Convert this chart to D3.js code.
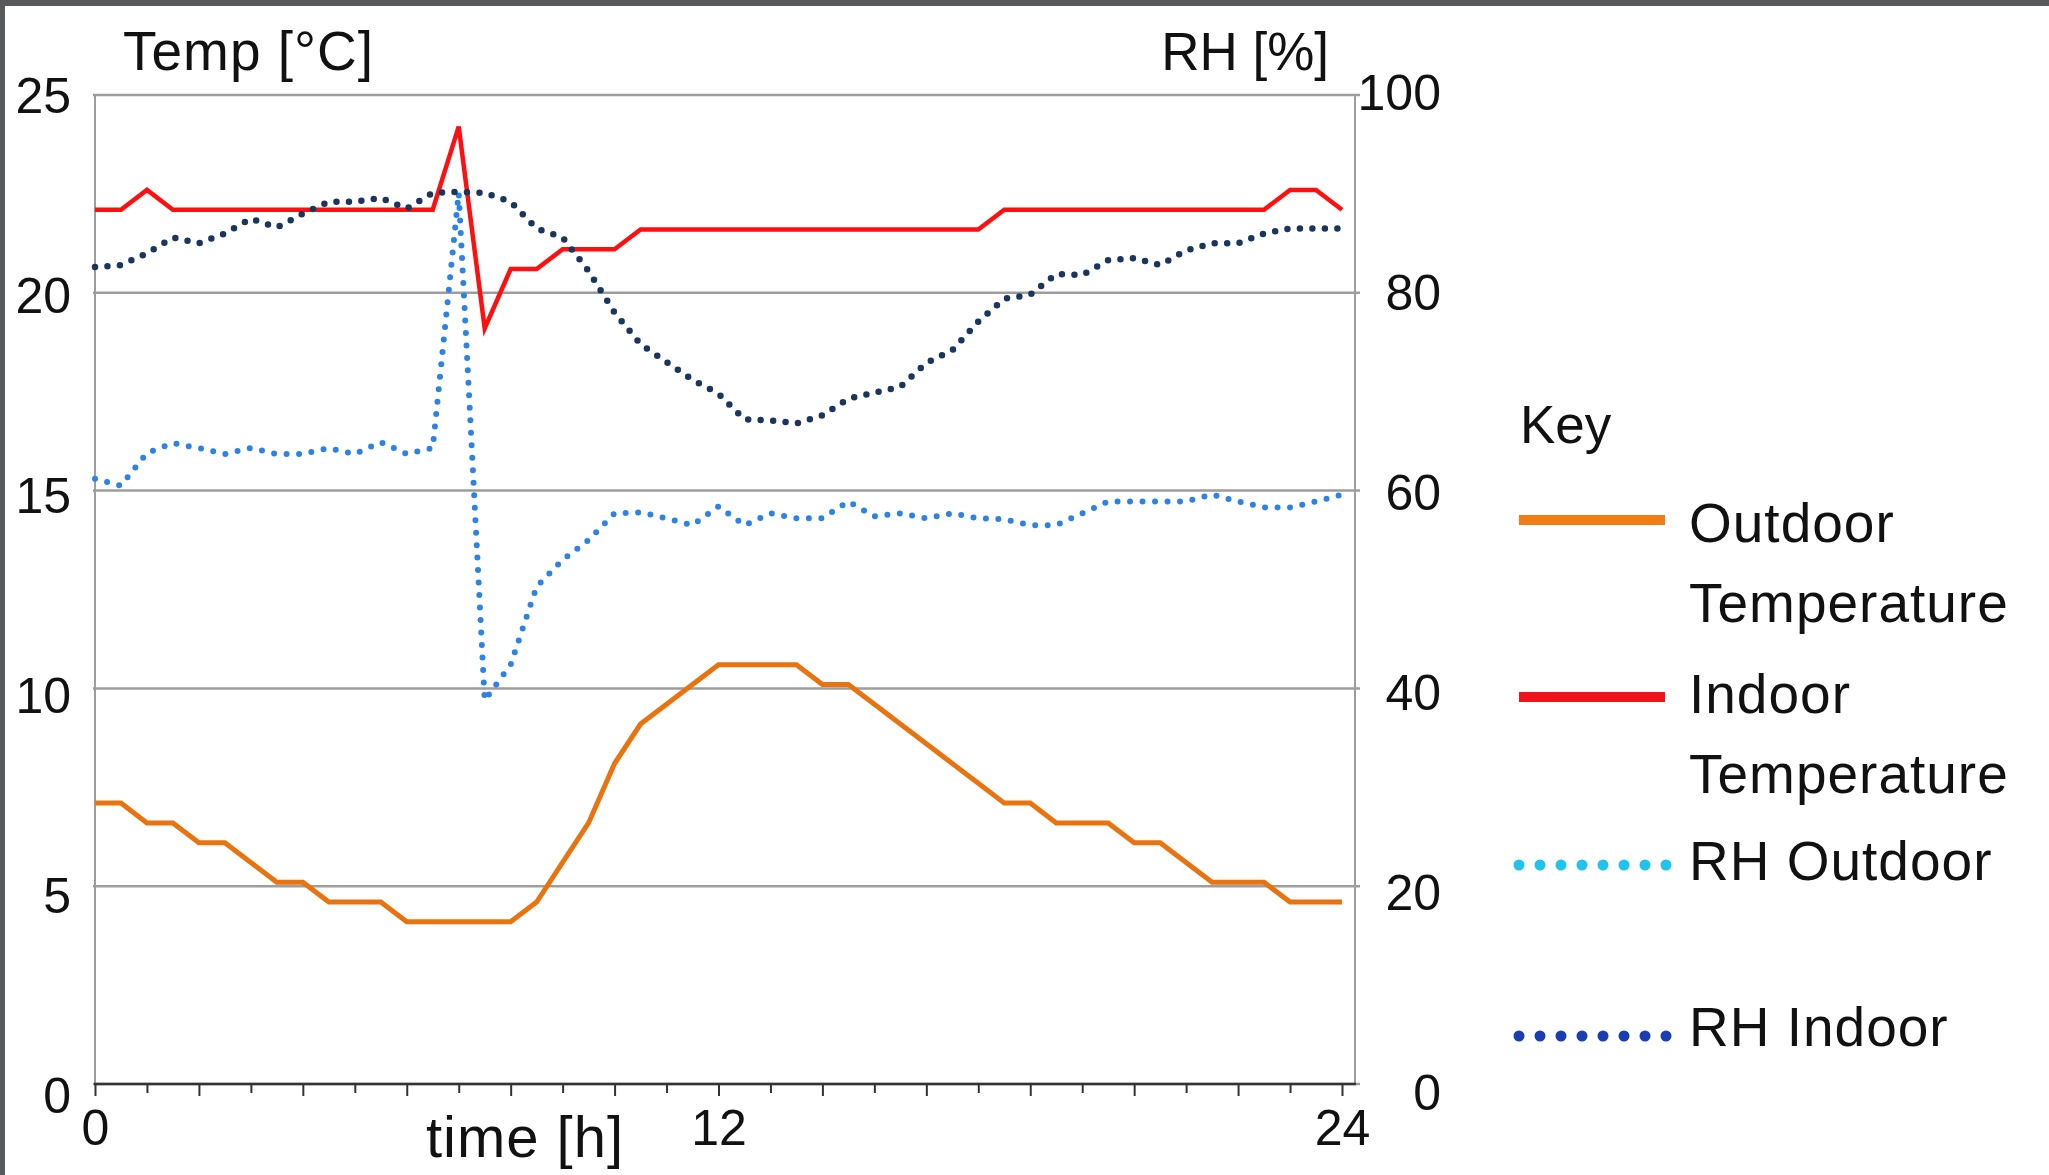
<!DOCTYPE html>
<html>
<head>
<meta charset="utf-8">
<script src="https://cdn.jsdelivr.net/npm/d3@7"></script>
<style>
  body { margin: 0; background: #fff; }
  svg { display: block; font-family: "Liberation Sans", Arial, Helvetica, sans-serif; }
</style>
</head>
<body>
<div id="chart"></div>
<script>
// time of day, one reading every half hour
var hours = [0, 0.5, 1, 1.5, 2, 2.5, 3, 3.5, 4, 4.5, 5, 5.5, 6, 6.5, 7, 7.5, 8, 8.5,
  9, 9.5, 10, 10.5, 11, 11.5, 12, 12.5, 13, 13.5, 14, 14.5, 15, 15.5, 16, 16.5,
  17, 17.5, 18, 18.5, 19, 19.5, 20, 20.5, 21, 21.5, 22, 22.5, 23, 23.5, 24];

// temperatures [°C]
var outdoorTemp = [7.1, 7.1, 6.6, 6.6, 6.1, 6.1, 5.6, 5.1, 5.1, 4.6, 4.6, 4.6, 4.1, 4.1,
  4.1, 4.1, 4.1, 4.6, 5.6, 6.6, 8.1, 9.1, 9.6, 10.1, 10.6, 10.6, 10.6, 10.6, 10.1, 10.1,
  9.6, 9.1, 8.6, 8.1, 7.6, 7.1, 7.1, 6.6, 6.6, 6.6, 6.1, 6.1, 5.6, 5.1, 5.1, 5.1, 4.6, 4.6, 4.6];
var indoorTemp = [22.1, 22.1, 22.6, 22.1, 22.1, 22.1, 22.1, 22.1, 22.1, 22.1, 22.1, 22.1, 22.1, 22.1,
  24.2, 19.1, 20.6, 20.6, 21.1, 21.1, 21.1, 21.6, 21.6, 21.6, 21.6, 21.6, 21.6, 21.6, 21.6, 21.6,
  21.6, 21.6, 21.6, 21.6, 21.6, 22.1, 22.1, 22.1, 22.1, 22.1, 22.1, 22.1, 22.1, 22.1, 22.1, 22.1,
  22.6, 22.6, 22.1];

// relative humidity [%]
var rhOutdoor = [61.2, 60.5, 63.8, 64.8, 64.3, 63.7, 64.3, 63.7, 63.7, 64.3, 63.7, 64.9, 63.7, 64.3,
  90.1, 38.8, 42.4, 50.3, 53.0, 55.0, 57.7, 57.8, 57.2, 56.5, 58.4, 56.5, 57.7, 57.2, 57.2, 58.9,
  57.4, 57.7, 57.2, 57.7, 57.2, 57.1, 56.5, 56.5, 57.7, 58.9, 58.9, 58.9, 58.9, 59.6, 58.9, 58.3,
  58.3, 58.9, 59.6];
var rhIndoor = [82.6, 82.8, 84.0, 85.6, 85.0, 86.0, 87.5, 86.6, 88.0, 89.2, 89.2, 89.6, 88.5, 90.1,
  90.2, 90.1, 89.2, 86.5, 85.6, 82.2, 78.0, 74.8, 73.0, 71.2, 69.8, 67.2, 67.1, 66.8, 67.6, 69.3,
  69.9, 70.5, 72.9, 74.2, 77.1, 79.4, 79.8, 81.9, 81.8, 83.3, 83.5, 82.8, 84.3, 85.0, 85.0, 86.0,
  86.5, 86.5, 86.5];

var tempTicks = [0, 5, 10, 15, 20, 25];
var rhTicks = [0, 20, 40, 60, 80, 100];
var hourTicks = [0, 1, 2, 3, 4, 5, 6, 7, 8, 9, 10, 11, 12, 13, 14, 15, 16, 17, 18, 19, 20, 21, 22, 23, 24];
var hourLabels = [0, 12, 24];

var legendNames = [["Outdoor", "Temperature"], ["Indoor", "Temperature"], ["RH Outdoor"], ["RH Indoor"]];

// layout
var margin = { top: 95, left: 95 };
var width = 1260, height = 989;   // plot box, right axis sits at width
var xSpan = 1247;                 // 0..24 h

var svg = d3.select("#chart")
  .append("svg")
    .attr("width", 2049)
    .attr("height", 1175);

svg.append("rect").attr("width", 2049).attr("height", 1175).attr("fill", "#fff");
// dark frame on top and left
svg.append("rect").attr("width", 2049).attr("height", 6).attr("fill", "#58595b");
svg.append("rect").attr("width", 5).attr("height", 1175).attr("fill", "#58595b");

var g = svg.append("g")
  .attr("transform", "translate(" + margin.left + "," + margin.top + ")");

var x = d3.scaleLinear().domain([0, 24]).range([0, xSpan]);
var yT = d3.scaleLinear().domain([0, 25]).range([height, 0]);
var yRH = d3.scaleLinear().domain([0, 100]).range([height, 0]);
// tick labels drift a little lower than their gridlines towards the bottom
var yLabT = d3.scaleLinear().domain([0, 25]).range([height + 11, 0]);
var yLabRH = d3.scaleLinear().domain([0, 100]).range([height + 8, -3]);

// gridlines
g.append("g").selectAll("line")
  .data(tempTicks)
  .join("line")
    .attr("x1", -2).attr("x2", width + 5)
    .attr("y1", function(d) { return yT(d); })
    .attr("y2", function(d) { return yT(d); })
    .attr("stroke", "#9d9d9d")
    .attr("stroke-width", 2.5);

// left and right axis lines
g.append("line").attr("x1", 0).attr("x2", 0).attr("y1", 0).attr("y2", height)
  .attr("stroke", "#9d9d9d").attr("stroke-width", 2);
g.append("line").attr("x1", width).attr("x2", width).attr("y1", 0).attr("y2", height)
  .attr("stroke", "#9d9d9d").attr("stroke-width", 2);

// left tick labels
g.append("g").selectAll("text")
  .data(tempTicks)
  .join("text")
    .attr("x", -24)
    .attr("y", function(d) { return yLabT(d); })
    .attr("dy", "0.36em")
    .attr("text-anchor", "end")
    .attr("font-size", 50)
    .attr("fill", "#111")
    .text(function(d) { return d; });

// right tick labels
g.append("g").selectAll("text")
  .data(rhTicks)
  .join("text")
    .attr("x", 1346)
    .attr("y", function(d) { return yLabRH(d); })
    .attr("dy", "0.36em")
    .attr("text-anchor", "end")
    .attr("font-size", 50)
    .attr("fill", "#111")
    .text(function(d) { return d; });

// bottom axis
var xAxis = g.append("g")
  .attr("transform", "translate(0," + height + ")")
  .call(d3.axisBottom(x)
    .tickValues(hourTicks)
    .tickSize(12)
    .tickSizeOuter(0)
    .tickFormat(function(d) { return hourLabels.indexOf(d) >= 0 ? d : ""; }));
xAxis.select(".domain").remove();
xAxis.selectAll(".tick line")
  .attr("stroke", "#333")
  .attr("stroke-width", 2)
  .attr("y2", function(d) { return d % 2 ? 9 : 12; });
xAxis.selectAll(".tick text")
  .attr("y", 25)
  .attr("dy", "0.71em")
  .attr("font-size", 50)
  .attr("font-family", "Liberation Sans, Arial, sans-serif")
  .attr("fill", "#111");
xAxis.append("line")
  .attr("x1", -1).attr("x2", width + 1)
  .attr("stroke", "#333").attr("stroke-width", 2.5);

// series
var tempLine = d3.line()
  .x(function(d, i) { return x(hours[i]); })
  .y(function(d) { return yT(d); });
var rhLine = d3.line()
  .x(function(d, i) { return x(hours[i]); })
  .y(function(d) { return yRH(d); });

g.append("path").datum(outdoorTemp)
  .attr("d", tempLine)
  .attr("fill", "none")
  .attr("stroke", "#e8730f")
  .attr("stroke-width", 5)
  .attr("stroke-linejoin", "miter");

g.append("path").datum(indoorTemp)
  .attr("d", tempLine)
  .attr("fill", "none")
  .attr("stroke", "#ff0f0f")
  .attr("stroke-width", 4.5);

g.append("path").datum(rhOutdoor)
  .attr("d", rhLine)
  .attr("fill", "none")
  .attr("stroke", "#2c83e4")
  .attr("stroke-width", 6)
  .attr("stroke-linecap", "round")
  .attr("stroke-dasharray", "0 12.5");

g.append("path").datum(rhIndoor)
  .attr("d", rhLine)
  .attr("fill", "none")
  .attr("stroke", "#1b365d")
  .attr("stroke-width", 6.5)
  .attr("stroke-linecap", "round")
  .attr("stroke-dasharray", "0 12.5");

// axis titles
svg.append("text").attr("x", 123).attr("y", 70)
  .attr("font-size", 55).attr("letter-spacing", 1).attr("fill", "#111").text("Temp [°C]");
svg.append("text").attr("x", 1329).attr("y", 70).attr("text-anchor", "end")
  .attr("font-size", 53).attr("fill", "#111").text("RH [%]");
svg.append("text").attr("x", 525).attr("y", 1157).attr("text-anchor", "middle")
  .attr("font-size", 58).attr("letter-spacing", 1).attr("fill", "#111").text("time [h]");

// legend
var legend = svg.append("g");
legend.append("text").attr("x", 1520).attr("y", 443)
  .attr("font-size", 53).attr("fill", "#111").text("Key");

var legendStyle = [
  { color: "#f07c14", width: 10, dash: null, y: 520, textY: 542 },
  { color: "#ee1418", width: 10, dash: null, y: 697, textY: 713 },
  { color: "#1fc3ee", width: 11, dash: "0 21", y: 865, textY: 880 },
  { color: "#1b3db3", width: 11, dash: "0 21", y: 1036, textY: 1046 }
];

legendNames.forEach(function(lines, i) {
  var s = legendStyle[i];
  var item = legend.append("g");
  item.append("line")
    .attr("x1", s.dash ? 1519 : 1519)
    .attr("x2", s.dash ? 1668 : 1665)
    .attr("y1", s.y).attr("y2", s.y)
    .attr("stroke", s.color)
    .attr("stroke-width", s.width)
    .attr("stroke-linecap", s.dash ? "round" : "butt")
    .attr("stroke-dasharray", s.dash);
  item.selectAll("text")
    .data(lines)
    .join("text")
      .attr("x", 1689)
      .attr("y", function(d, j) { return s.textY + j * 80; })
      .attr("font-size", 55)
      .attr("letter-spacing", 1)
      .attr("fill", "#111")
      .text(function(d) { return d; });
});
</script>
</body>
</html>
